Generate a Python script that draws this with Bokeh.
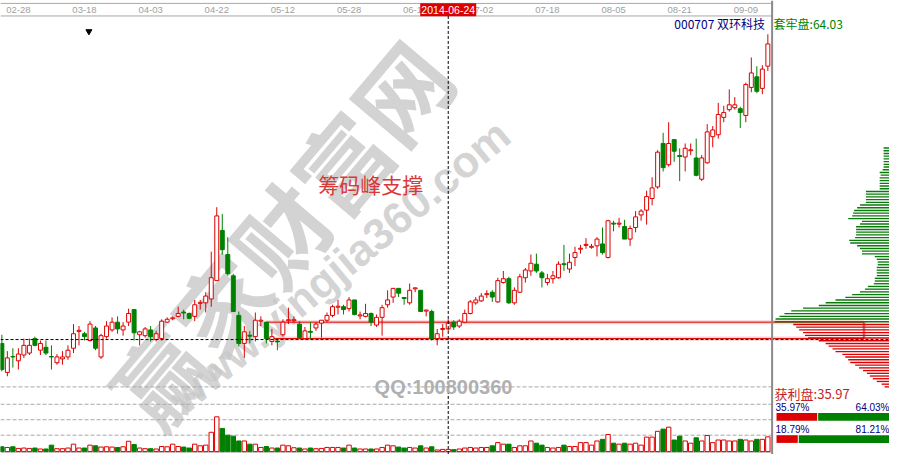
import numpy as np
from bokeh.plotting import figure
from bokeh.models import Range1d, ColumnDataSource
from bokeh.core.properties import value
from bokeh.embed import file_html
from bokeh.resources import INLINE

# ---------------- data ----------------
date_ticks = [0, 12, 24, 36, 48, 60, 72, 84, 96, 108, 120, 132]
date_labels = ["02-28", "03-18", "04-03", "04-22", "05-12", "05-28",
               "06-16", "07-02", "07-18", "08-05", "08-21", "09-09"]
first_idx = -3
cross_idx = 78
cross_label = "2014-06-24"

opens = [4.90, 4.30, 4.63, 4.54, 4.66, 4.70, 5.00, 4.76, 4.82, 4.63,
         4.50, 4.58, 4.62, 4.80, 5.15, 5.10, 4.96, 5.22, 4.62, 5.04,
         5.18, 5.34, 5.18, 5.34, 5.60, 5.08, 5.06, 5.18, 4.98, 5.00,
         5.34, 5.41, 5.46, 5.55, 5.52, 5.46, 5.73, 5.74, 5.82, 6.20,
         7.24, 6.74, 6.30, 5.48, 4.90, 5.07, 5.04, 5.36, 5.34, 4.94,
         4.95, 5.08, 5.37, 5.37, 5.30, 5.00, 5.15, 5.22, 5.32, 5.38,
         5.48, 5.65, 5.66, 5.62, 5.80, 5.47, 5.46, 5.52, 5.28, 5.44,
         5.70, 5.86, 6.04, 5.85, 5.74, 6.03, 6.00, 5.57, 5.56, 5.00,
         5.19, 5.20, 5.34, 5.26, 5.34, 5.52, 5.74, 5.78, 5.91, 5.96,
         5.76, 6.16, 6.24, 5.74, 5.96, 6.26, 6.40, 6.54, 6.36, 6.16,
         6.24, 6.26, 6.55, 6.44, 6.68, 6.85, 6.93, 6.89, 6.92, 6.96,
         6.68, 7.39, 7.37, 7.32, 7.06, 7.30, 7.56, 7.66, 7.90, 8.14,
         9.04, 8.60, 9.12, 8.79, 8.76, 8.89, 8.74, 8.30, 8.64, 9.18,
         9.22, 9.58, 9.74, 9.78, 9.76, 9.62, 10.20, 10.42, 10.18, 10.64]
highs = [5.08, 4.74, 4.80, 4.80, 5.00, 5.00, 5.04, 4.96, 4.96, 4.86,
         4.68, 4.74, 4.86, 5.30, 5.26, 5.14, 5.36, 5.26, 5.10, 5.36,
         5.44, 5.46, 5.34, 5.62, 5.60, 5.16, 5.24, 5.26, 5.16, 5.40,
         5.44, 5.46, 5.66, 5.60, 5.54, 5.80, 5.80, 5.96, 6.80, 7.72,
         7.58, 7.10, 6.34, 5.56, 5.26, 5.16, 5.54, 5.46, 5.34, 5.20,
         5.00, 5.40, 5.64, 5.46, 5.36, 5.24, 5.34, 5.34, 5.38, 5.54,
         5.70, 5.80, 5.70, 5.86, 5.80, 5.56, 5.72, 5.54, 5.50, 5.70,
         6.00, 6.04, 6.04, 5.86, 6.14, 6.06, 6.00, 5.60, 5.60, 5.20,
         5.30, 5.40, 5.38, 5.40, 5.60, 5.80, 5.86, 5.94, 6.00, 6.00,
         6.26, 6.40, 6.28, 6.06, 6.34, 6.46, 6.74, 6.76, 6.40, 6.34,
         6.40, 6.60, 6.94, 6.76, 6.90, 6.94, 7.08, 6.96, 7.10, 7.30,
         7.46, 7.44, 7.50, 7.46, 7.34, 7.64, 7.68, 8.06, 8.34, 8.90,
         9.26, 9.48, 9.12, 8.94, 9.04, 9.04, 9.14, 8.80, 9.44, 9.40,
         9.88, 9.82, 10.16, 10.00, 9.80, 10.30, 10.82, 10.64, 10.66, 11.30]
lows = [4.32, 4.22, 4.40, 4.36, 4.60, 4.66, 4.84, 4.66, 4.66, 4.36,
        4.46, 4.46, 4.56, 4.70, 4.86, 4.96, 4.94, 4.76, 4.58, 5.00,
        5.14, 5.10, 5.06, 5.26, 4.96, 4.86, 5.02, 4.94, 4.94, 4.96,
        5.32, 5.38, 5.44, 5.40, 5.40, 5.36, 5.60, 5.54, 5.66, 6.20,
        6.74, 6.30, 5.56, 4.84, 4.60, 4.90, 4.94, 5.26, 4.90, 4.86,
        4.76, 5.04, 5.30, 5.32, 5.00, 4.98, 5.00, 5.16, 5.02, 5.34,
        5.44, 5.50, 5.50, 5.56, 5.48, 5.40, 5.44, 5.26, 5.24, 5.06,
        5.64, 5.74, 5.86, 5.70, 5.70, 5.96, 5.56, 5.46, 4.96, 4.86,
        5.04, 5.16, 5.18, 5.22, 5.32, 5.50, 5.70, 5.76, 5.84, 5.76,
        5.74, 6.14, 5.72, 5.70, 5.94, 6.16, 6.30, 6.36, 6.06, 6.10,
        6.14, 6.24, 6.40, 6.36, 6.50, 6.76, 6.86, 6.86, 6.70, 6.74,
        6.66, 7.22, 7.30, 7.06, 6.92, 7.20, 7.44, 7.36, 7.76, 8.10,
        8.46, 8.56, 8.66, 8.26, 8.46, 8.80, 8.36, 8.26, 8.62, 8.96,
        9.14, 9.48, 9.70, 9.74, 9.36, 9.48, 10.10, 10.08, 10.06, 10.54]
closes = [4.36, 4.60, 4.62, 4.68, 4.86, 4.86, 4.86, 4.90, 4.70, 4.62,
          4.62, 4.62, 4.76, 5.10, 5.17, 5.04, 5.30, 4.80, 5.06, 5.26,
          5.34, 5.20, 5.26, 5.52, 5.12, 5.14, 5.20, 5.04, 5.10, 5.36,
          5.40, 5.43, 5.52, 5.53, 5.42, 5.70, 5.75, 5.88, 6.26, 7.54,
          6.84, 6.34, 5.56, 4.90, 5.14, 5.05, 5.38, 5.38, 5.00, 5.04,
          4.93, 5.34, 5.39, 5.39, 5.02, 5.16, 5.13, 5.30, 5.38, 5.48,
          5.66, 5.67, 5.60, 5.80, 5.50, 5.49, 5.52, 5.34, 5.44, 5.64,
          5.80, 6.04, 5.94, 5.83, 6.00, 6.05, 5.56, 5.59, 5.00, 5.10,
          5.21, 5.32, 5.24, 5.36, 5.52, 5.76, 5.80, 5.88, 5.93, 5.86,
          6.20, 6.24, 5.74, 6.00, 6.28, 6.42, 6.56, 6.40, 6.26, 6.24,
          6.30, 6.54, 6.53, 6.58, 6.78, 6.87, 6.95, 6.91, 7.06, 6.78,
          7.44, 7.37, 7.39, 7.06, 7.28, 7.52, 7.64, 7.94, 8.12, 8.86,
          8.54, 9.04, 8.88, 8.77, 8.94, 8.91, 8.38, 8.74, 9.28, 9.32,
          9.64, 9.68, 9.84, 9.84, 9.68, 10.26, 10.50, 10.12, 10.58, 11.10]
volumes = [5.0, 4.3, 5.0, 3.3, 3.7, 3.3, 3.7, 2.7, 2.7, 6.7,
           3.0, 3.0, 3.7, 7.7, 3.7, 3.7, 6.7, 6.0, 4.7, 5.0,
           4.7, 4.3, 5.0, 10.7, 7.3, 3.7, 3.0, 3.0, 2.7, 5.3,
           5.0, 7.7, 5.3, 4.7, 3.7, 7.7, 6.0, 6.7, 20.0, 36.0,
           24.0, 17.0, 16.0, 11.0, 11.0, 7.7, 7.7, 4.3, 5.3, 3.7,
           3.7, 6.7, 6.0, 4.0, 3.7, 2.7, 3.7, 3.0, 3.3, 4.3,
           4.3, 4.3, 3.7, 6.7, 3.7, 2.7, 2.7, 2.7, 2.7, 4.3,
           6.7, 6.0, 4.7, 3.7, 4.3, 3.7, 6.0, 3.7, 5.0, 1.7,
           2.3, 2.3, 2.0, 2.7, 3.7, 4.3, 3.7, 4.3, 4.3, 6.0,
           9.3, 7.7, 7.7, 4.3, 6.0, 6.0, 11.0, 8.7, 6.7, 4.3,
           3.7, 4.3, 6.7, 5.3, 5.3, 9.3, 9.3, 6.7, 11.0, 12.7,
           17.7, 8.7, 7.7, 8.7, 7.7, 8.7, 6.7, 15.0, 15.0, 21.0,
           23.3, 25.3, 12.0, 16.0, 11.0, 8.7, 14.3, 11.0, 16.7, 9.3,
           12.0, 12.0, 11.0, 11.0, 12.7, 12.0, 11.0, 12.7, 12.7, 15.3]

# chip distribution (price bins from 4.00 upward, step 0.0562)
chip_base, chip_step = 4.00, 0.0562
chip_amount = [5, 8, 13, 17, 20, 23, 27, 31, 35, 40, 42, 45, 48, 55, 58, 62,
               65, 72, 83, 86, 88, 92, 95, 98,
               117, 116, 112, 107, 100, 88, 72, 65, 55, 45, 38, 30, 25, 22,
               16, 15, 15, 13, 13, 13, 13, 12, 12, 13, 15, 28, 28, 30, 33,
               40, 41, 35, 34, 34, 34, 34, 30, 28, 42, 38, 37, 36, 33, 30,
               24, 24, 24, 24, 24, 10, 10, 10, 10, 10, 9, 10, 7, 6, 6, 6,
               6, 6, 6, 6, 6]
profit_pct = 35.97
trapped_pct = 64.03
conc_low_pct = 18.79
conc_high_pct = 81.21
avg_cost = 4.98
box_start_idx = 45
box_low, box_high = 5.00, 5.34
stock_title = "000707  双环科技"

# ---------------- layout constants ----------------
W_REF, H_REF = 905, 470
X0, DX = 18.2, 5.61
RED = "#dd0000"
GREEN = "#008000"
CJK = value("Noto Sans CJK SC")
LAT = value("Liberation Sans")

p = figure(width=889, height=454, output_backend="svg", toolbar_location=None,
           x_range=Range1d(-X0 / DX, (W_REF - X0) / DX),
           y_range=Range1d(2.6, 12.0),
           x_axis_type=None, y_axis_type=None, min_border=0,
           outline_line_color=None, background_fill_color="white",
           border_fill_color="white")
p.extra_x_ranges = {"px": Range1d(0, W_REF), "chip": Range1d(W_REF, 0)}
p.extra_y_ranges = {"py": Range1d(H_REF, 0), "vol": Range1d(-3, 467)}

# ---------------- watermarks ----------------
p.text(x=[284], y=[240], text=["赢家财富网"], angle=0.869,
       text_font=CJK, text_font_size=value("93px"), text_font_style="bold",
       text_color="#c4c4c4", text_alpha=0.75, text_align="center",
       text_baseline="middle", x_range_name="px", y_range_name="py")
p.text(x=[345], y=[275], text=["www.yingjia360.com"], angle=0.698,
       text_font=LAT, text_font_size=value("44px"), text_font_style="bold",
       text_color="#c8c8c8", text_alpha=0.8, text_align="center",
       text_baseline="middle", x_range_name="px", y_range_name="py")

# ---------------- frame lines ----------------
p.segment(x0=[0, 0, 0], y0=[3, 16, 467.5], x1=[785, 785, 785], y1=[3, 16, 467.5],
          line_color="#a8a8a8", line_width=1, x_range_name="px", y_range_name="py")
p.segment(x0=[0] * 4, y0=[400, 418, 434, 450], x1=[785] * 4, y1=[400, 418, 434, 450],
          line_color="#a8a8a8", line_width=1, line_dash="4 2",
          x_range_name="px", y_range_name="py")

# ---------------- chip-peak box ----------------
box_left_px = X0 + DX * box_start_idx
for col, w, a in (("#f5c0c0", 4, 0.7), (RED, 1, 1.0)):
    p.segment(x0=[box_left_px, box_left_px], y0=[box_low, box_high],
              x1=[879, 879], y1=[box_low, box_high],
              line_color=col, line_width=w, line_alpha=a, x_range_name="px")
    p.segment(x0=[box_left_px, 879], y0=[box_low, box_low],
              x1=[box_left_px, 879], y1=[box_high, box_high],
              line_color=col, line_width=w, line_alpha=a, x_range_name="px")

# ---------------- candles ----------------
o = np.array(opens); c = np.array(closes)
h = np.array(highs); l = np.array(lows); v = np.array(volumes)
idx = np.arange(first_idx, first_idx + len(c))
up = c >= o
dn = ~up
src_up = ColumnDataSource(dict(x=idx[up], top=c[up], bottom=o[up], h=h[up], l=l[up], v=v[up]))
src_dn = ColumnDataSource(dict(x=idx[dn], top=o[dn], bottom=c[dn], h=h[dn], l=l[dn], v=v[dn]))

p.segment(x0="x", y0="h", x1="x", y1="l", source=src_up, line_color=RED, line_width=1)
p.vbar(x="x", top="top", bottom="bottom", width=0.72, source=src_up,
       fill_color="white", line_color=RED, line_width=1)
p.segment(x0="x", y0="h", x1="x", y1="l", source=src_dn, line_color=GREEN, line_width=1)
p.vbar(x="x", top="top", bottom="bottom", width=0.72, source=src_dn,
       fill_color=GREEN, line_color=GREEN, line_width=1)

# ---------------- volume ----------------
p.vbar(x="x", top="v", bottom=0, width=0.8, source=src_up, y_range_name="vol",
       fill_color="white", line_color=RED, line_width=1)
p.vbar(x="x", top="v", bottom=0, width=0.8, source=src_dn, y_range_name="vol",
       fill_color=GREEN, line_color=GREEN, line_width=1)

# ---------------- chip distribution ----------------
chip_price = chip_base + chip_step * np.arange(len(chip_amount))
chip_amt = np.array(chip_amount)
close_sel = closes[cross_idx - first_idx]
red_m = chip_price <= close_sel + 1e-9
p.hbar(y=chip_price[red_m], left=0, right=chip_amt[red_m], height=0.028,
       fill_color=RED, line_color=None, x_range_name="chip")
p.hbar(y=chip_price[~red_m], left=0, right=chip_amt[~red_m], height=0.028,
       fill_color="#0a7a0a", line_color=None, x_range_name="chip")

# ---------------- dashed lines ----------------
p.segment(x0=[0], y0=[avg_cost], x1=[W_REF], y1=[avg_cost], line_color="black",
          line_width=1, line_dash="3 2", x_range_name="px")
p.segment(x0=[cross_idx], y0=[16], x1=[cross_idx], y1=[H_REF], line_color="black",
          line_width=1, line_dash="3 2", y_range_name="py")

# ---------------- separator ----------------
p.segment(x0=[785.5], y0=[0], x1=[785.5], y1=[H_REF], line_color="#8a8a8a",
          line_width=2, x_range_name="px", y_range_name="py")

# ---------------- date labels ----------------
p.text(x=date_ticks, y=[9.8] * len(date_ticks), text=date_labels,
       text_font=LAT, text_font_size=value("9.5px"), text_color="#a0a0a0",
       text_align="center", text_baseline="middle", y_range_name="py")
p.rect(x=[cross_idx], y=[9.6], width=56, height=13, width_units="screen",
       height_units="screen", fill_color="#dd0000", line_color=None, y_range_name="py")
p.text(x=[cross_idx], y=[10], text=[cross_label], text_font=LAT,
       text_font_size=value("10.5px"), text_color="white", text_align="center",
       text_baseline="middle", y_range_name="py")

# ---------------- misc texts ----------------
p.scatter(x=[90], y=[32], marker="inverted_triangle", size=6, color="black",
          x_range_name="px", y_range_name="py")
p.text(x=[781], y=[24], text=[stock_title], text_font=CJK,
       text_font_size=value("12px"), text_color="#000080", text_align="right",
       text_baseline="middle", x_range_name="px", y_range_name="py")
p.text(x=[787], y=[24], text=["套牢盘:%.2f" % trapped_pct], text_font=CJK,
       text_font_size=value("12px"), text_color=GREEN, text_align="left",
       text_baseline="middle", x_range_name="px", y_range_name="py")
p.text(x=[377], y=[190], text=["筹码峰支撑"], text_font=CJK,
       text_font_size=value("21px"), text_color="#d83a3a", text_align="center",
       text_baseline="middle", x_range_name="px", y_range_name="py")
p.text(x=[451], y=[400], text=["QQ:100800360"], text_font=LAT,
       text_font_size=value("20px"), text_font_style="bold", text_color="#b0b0b0",
       text_align="center", text_baseline="middle", x_range_name="px", y_range_name="py")

p.text(x=[788], y=[407], text=["获利盘:%.2f" % profit_pct], text_font=CJK,
       text_font_size=value("13px"), text_color="#c41e1e", text_align="left",
       text_baseline="middle", x_range_name="px", y_range_name="py")

BAR_L, BAR_W = 790, 115
for yc, lo_pct, hi_pct in ((421, profit_pct, trapped_pct), (444, conc_low_pct, conc_high_pct)):
    p.text(x=[789], y=[yc], text=["%.2f%%" % lo_pct], text_font=LAT,
           text_font_size=value("10px"), text_color="#000080", text_align="left",
           text_baseline="middle", x_range_name="px", y_range_name="py")
    p.text(x=[905], y=[yc], text=["%.2f%%" % hi_pct], text_font=LAT,
           text_font_size=value("10px"), text_color="#000080", text_align="right",
           text_baseline="middle", x_range_name="px", y_range_name="py")
    split = BAR_L + BAR_W * lo_pct / 100.0
    p.quad(left=[BAR_L, split + 1], right=[split, BAR_L + BAR_W],
           top=[yc + 6, yc + 6], bottom=[yc + 14, yc + 14],
           fill_color=[RED, GREEN], line_color=None, x_range_name="px", y_range_name="py")

open("out.html", "w").write(file_html(p, INLINE))
